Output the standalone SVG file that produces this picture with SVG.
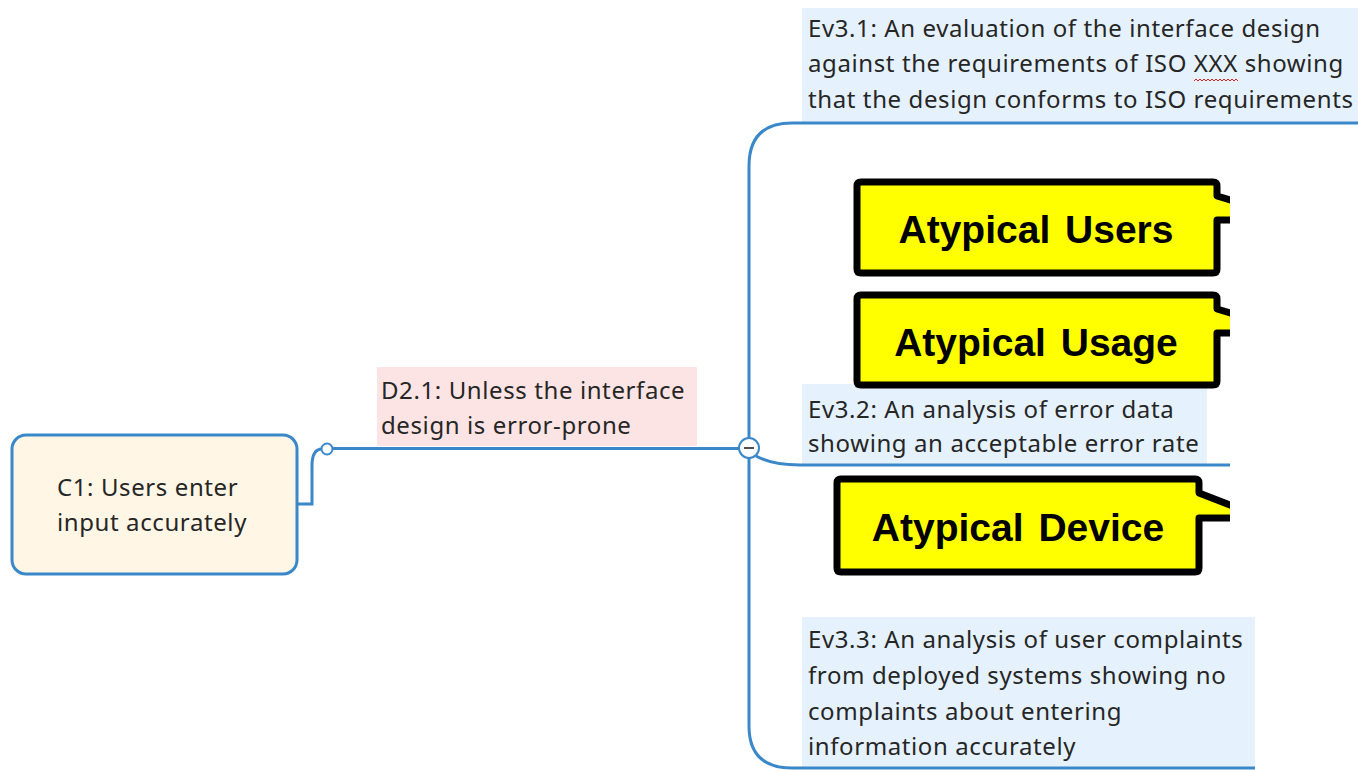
<svg xmlns="http://www.w3.org/2000/svg" width="1358" height="770" viewBox="0 0 1358 770">
  <style>
    .txt { font-family: "Noto Sans", "Open Sans", sans-serif; font-size: 24px; letter-spacing: 0.6px; fill: #262626; }
    .wire { fill: none; stroke: #3a87c9; stroke-width: 3; }
    .ev { fill: #e5f2fd; }
    .callout { fill: #ffff00; stroke: #000; stroke-width: 7; stroke-linejoin: round; }
    .ctxt { font-family: "Liberation Sans", Arial, sans-serif; font-weight: bold; font-size: 39px; fill: #000; text-anchor: middle; word-spacing: 4px; }
  </style>
  <defs>
    <clipPath id="rightEdge">
      <rect x="0" y="0" width="1230" height="770"/>
    </clipPath>
  </defs>
  <rect width="1358" height="770" fill="#ffffff"/>

  <!-- label backgrounds -->
  <g id="D2.1">
    <rect x="377" y="367" width="320" height="79" fill="#fde4e4"/>
    <text class="txt" x="381" y="399">D2.1: Unless the interface</text>
    <text class="txt" x="381" y="434">design is error-prone</text>
  </g>

  <g id="Ev3.1">
    <rect class="ev" x="802" y="8" width="556" height="114"/>
    <text class="txt" x="808" y="37">Ev3.1: An evaluation of the interface design</text>
    <text class="txt" x="808" y="72">against the requirements of ISO XXX showing</text>
    <text class="txt" x="808" y="108">that the design conforms to ISO requirements</text>
    <!-- spell-check squiggle under XXX -->
    <path d="M1194 81 l2 -2 l2 2 l2 -2 l2 2 l2 -2 l2 2 l2 -2 l2 2 l2 -2 l2 2 l2 -2 l2 2 l2 -2 l2 2 l2 -2 l2 2 l2 -2 l2 2 l2 -2 l2 2 l2 -2 l2 2" fill="none" stroke="#e02020" stroke-width="1"/>
  </g>

  <g id="Ev3.2">
    <rect class="ev" x="802" y="384" width="405" height="81"/>
    <text class="txt" x="808" y="418">Ev3.2: An analysis of error data</text>
    <text class="txt" x="808" y="452">showing an acceptable error rate</text>
  </g>

  <g id="Ev3.3">
    <rect class="ev" x="802" y="617" width="453" height="151"/>
    <text class="txt" x="808" y="648">Ev3.3: An analysis of user complaints</text>
    <text class="txt" x="808" y="684">from deployed systems showing no</text>
    <text class="txt" x="808" y="720">complaints about entering</text>
    <text class="txt" x="808" y="755">information accurately</text>
  </g>

  <!-- connectors -->
  <g id="connectors">
    <path class="wire" d="M297 504 H312 V466 Q312 449 322 449"/>
    <path class="wire" d="M332.5 448.5 H739"/>
    <path class="wire" d="M1358 123 H792 Q749 123 749 166 V438"/>
    <path class="wire" d="M749 458 V726 Q749 768 792 768 H1255"/>
    <path class="wire" d="M756 456 Q772 465 800 465 H1230"/>
    <circle cx="327" cy="449" r="5.5" fill="#ffffff" stroke="#3a87c9" stroke-width="2"/>
    <circle cx="749" cy="448" r="10" fill="#ffffff" stroke="#3a87c9" stroke-width="2"/>
    <line x1="744" y1="448" x2="754" y2="448" stroke="#222" stroke-width="1.6"/>
  </g>

  <g id="C1">
    <rect x="12" y="435" width="285" height="139" rx="14" fill="#fff6e5" stroke="#3a87c9" stroke-width="3"/>
    <text class="txt" x="57" y="496">C1: Users enter</text>
    <text class="txt" x="57" y="531">input accurately</text>
  </g>

  <!-- yellow callouts -->
  <g clip-path="url(#rightEdge)">
    <g id="AtypicalUsers">
      <path class="callout" d="M861 182 H1213 Q1217 182 1217 186 V196 L1240 203 V220 H1217 V269 Q1217 273 1213 273 H861 Q857 273 857 269 V186 Q857 182 861 182 Z"/>
      <text class="ctxt" x="1036" y="243">Atypical Users</text>
    </g>
    <g id="AtypicalUsage">
      <path class="callout" d="M861 295 H1213 Q1217 295 1217 299 V309 L1240 316 V333 H1217 V381 Q1217 385 1213 385 H861 Q857 385 857 381 V299 Q857 295 861 295 Z"/>
      <text class="ctxt" x="1036" y="356">Atypical Usage</text>
    </g>
    <g id="AtypicalDevice">
      <path class="callout" d="M841 479 H1195 Q1199 479 1199 483 V493 L1240 509 V518 H1199 V568 Q1199 572 1195 572 H841 Q837 572 837 568 V483 Q837 479 841 479 Z"/>
      <text class="ctxt" x="1018" y="541">Atypical Device</text>
    </g>
  </g>
</svg>
